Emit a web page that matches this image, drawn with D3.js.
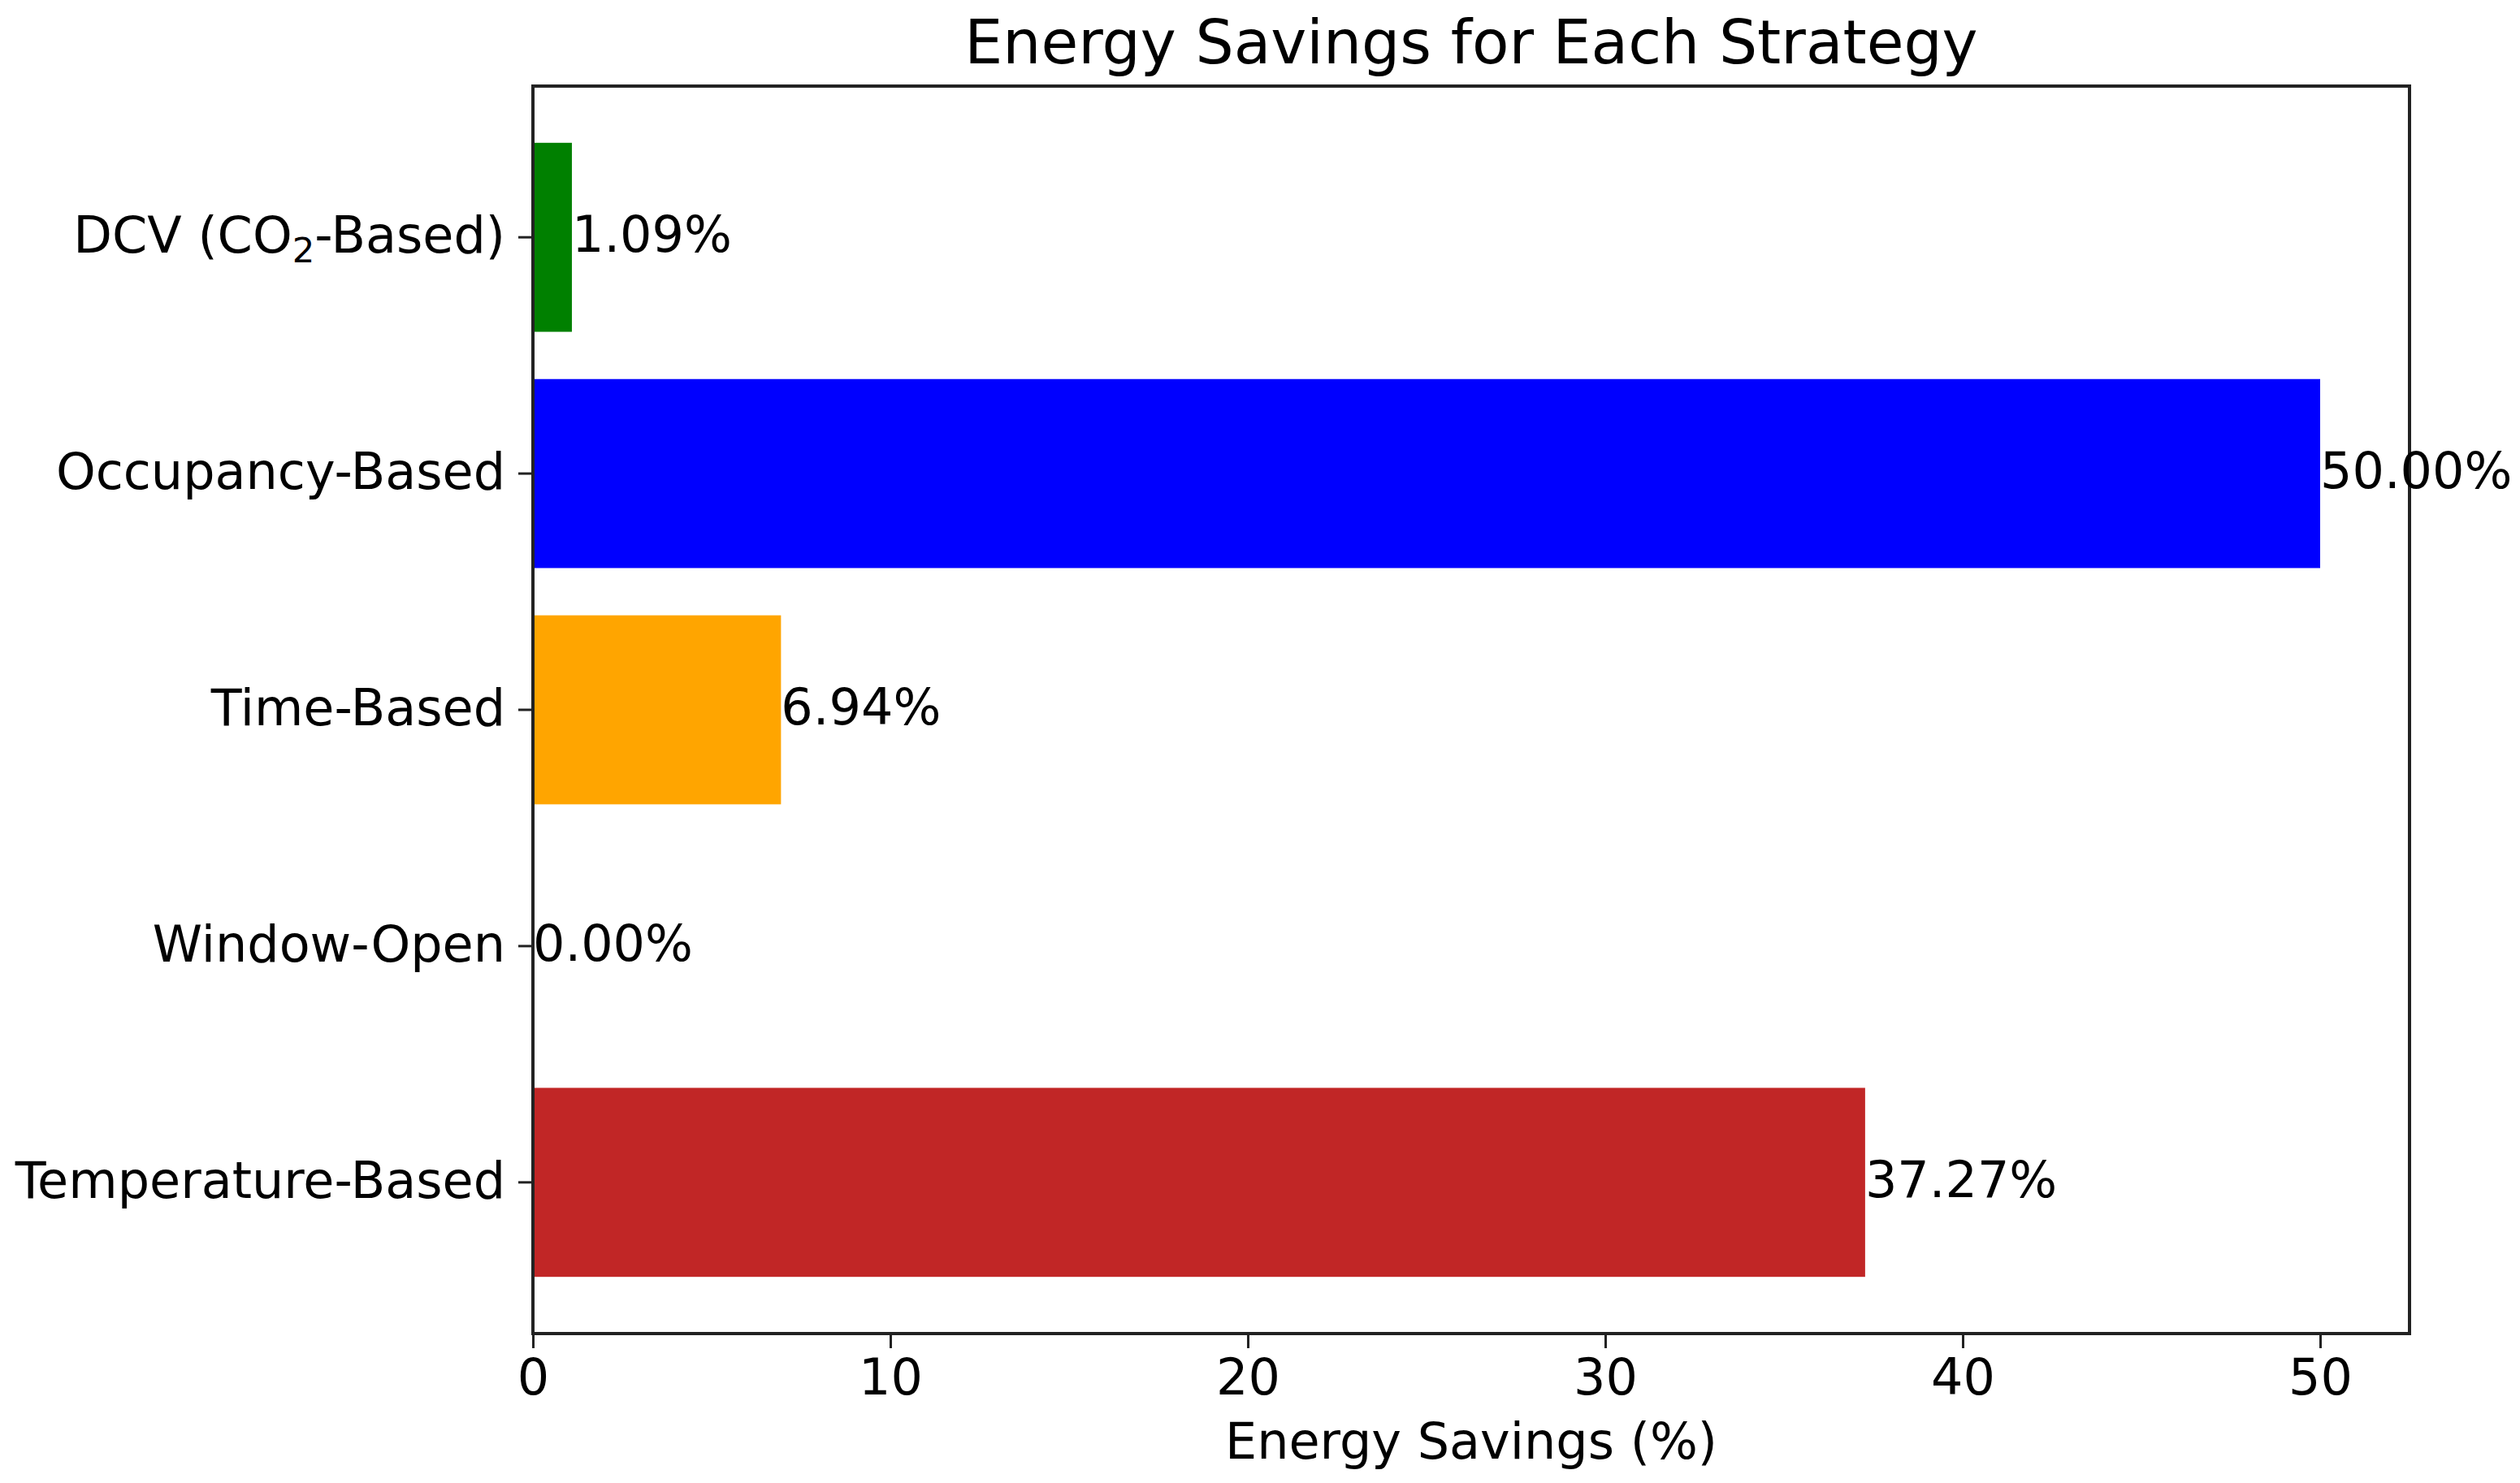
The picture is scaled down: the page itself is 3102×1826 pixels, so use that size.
<!DOCTYPE html>
<html>
<head>
<meta charset="utf-8">
<script src="https://cdn.jsdelivr.net/npm/d3@7"></script>
<style>
  html, body { margin: 0; padding: 0; background: #fff; }
  svg { display: block; }
  text { font-family: "DejaVu Sans", sans-serif; fill: #000; }
</style>
</head>
<body>
<svg id="chart" width="3102" height="1826"></svg>
<script>
// ---- data ----
const categories = ["DCV (CO2-Based)", "Occupancy-Based", "Time-Based", "Window-Open", "Temperature-Based"];
const values = [1.09, 50.00, 6.94, 0.00, 37.27];
const colors = ["#008000", "#0000ff", "#ffa500", "#800080", "#c12626"];
const xTicks = [0, 10, 20, 30, 40, 50];
const titleText = "Energy Savings for Each Strategy";
const xLabel = "Energy Savings (%)";

// ---- layout ----
const plotL = 656, plotR = 2966, plotT = 106, plotB = 1642;
const fs = 62;

const svg = d3.select("#chart");

const x = d3.scaleLinear().domain([0, 52.5]).range([plotL, plotR]);
const y = d3.scaleBand().domain(categories).range([plotT, plotB])
  .paddingInner(0.2).paddingOuter(0.24);

// bars
svg.append("g").selectAll("rect")
  .data(categories)
  .join("rect")
  .attr("x", x(0))
  .attr("y", d => y(d))
  .attr("width", (d, i) => x(values[i]) - x(0))
  .attr("height", y.bandwidth())
  .attr("fill", (d, i) => colors[i]);

// x axis
const xAxis = svg.append("g")
  .attr("transform", `translate(0,${plotB})`)
  .call(d3.axisBottom(x).tickValues(xTicks).tickFormat(d3.format("d")).tickSize(18).tickPadding(13));
xAxis.select(".domain").remove();
xAxis.selectAll("line").attr("stroke", "#222").attr("stroke-width", 3);
xAxis.selectAll("text").attr("font-size", fs).attr("font-family", "DejaVu Sans").attr("fill", "#000");

// y axis
const yAxis = svg.append("g")
  .attr("transform", `translate(${plotL},0)`)
  .call(d3.axisLeft(y).tickSize(18).tickPadding(16));
yAxis.select(".domain").remove();
yAxis.selectAll("line").attr("stroke", "#222").attr("stroke-width", 3);
yAxis.selectAll("text")
  .attr("font-size", fs).attr("font-family", "DejaVu Sans").attr("fill", "#000")
  .attr("dy", "0.31em")
  .each(function(d) {
    const t = d3.select(this);
    if (d.indexOf("CO2") >= 0) {
      t.text(null);
      const parts = d.split("CO2");
      t.append("tspan").text(parts[0] + "CO");
      t.append("tspan").text("2").attr("font-size", fs * 0.7).attr("dy", 12);
      t.append("tspan").text(parts[1]).attr("dy", -12);
    }
  });

// frame
svg.append("rect")
  .attr("x", plotL).attr("y", plotT)
  .attr("width", plotR - plotL).attr("height", plotB - plotT)
  .attr("fill", "none").attr("stroke", "#222").attr("stroke-width", 4);

// value labels
svg.append("g").selectAll("text")
  .data(categories)
  .join("text")
  .attr("x", (d, i) => x(values[i]))
  .attr("y", d => y(d) + y.bandwidth() / 2)
  .attr("dy", "0.29em")
  .attr("font-size", fs)
  .text((d, i) => values[i].toFixed(2) + "%");

// title
svg.append("text")
  .attr("x", (plotL + plotR) / 2).attr("y", 78)
  .attr("text-anchor", "middle")
  .attr("font-size", 74.4)
  .text(titleText);

// x label
svg.append("text")
  .attr("x", (plotL + plotR) / 2).attr("y", 1796)
  .attr("text-anchor", "middle")
  .attr("font-size", fs)
  .text(xLabel);
</script>
</body>
</html>
